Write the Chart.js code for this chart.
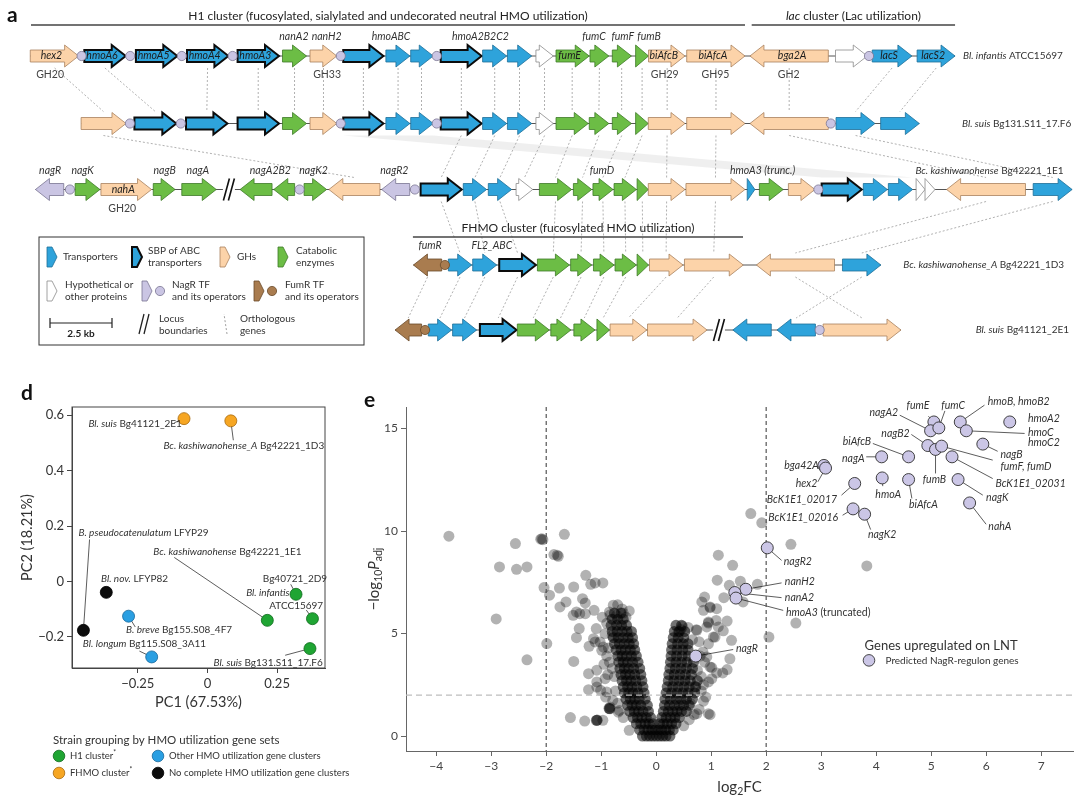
<!DOCTYPE html>
<html>
<head>
<meta charset="utf-8">
<title>HMO utilization gene clusters</title>
<script src="https://cdn.jsdelivr.net/npm/chart.js@4.4.1/dist/chart.umd.min.js"></script>
<style>
  html, body { margin: 0; padding: 0; background: #fff; }
  body { width: 1080px; height: 806px; position: relative; overflow: hidden; }
  canvas { position: absolute; }
  #genes { left: 0; top: 0; }
  #pca { left: 0; top: 380px; }
  #volcano { left: 360px; top: 380px; }
</style>
</head>
<body>
<canvas id="genes" width="1080" height="372"></canvas>
<canvas id="pca" width="350" height="426"></canvas>
<canvas id="volcano" width="720" height="426"></canvas>
<script>
// ---- panel a: gene clusters, [start kb, end kb, strand, kind, label] ----
// kinds: T transporter, S SBP of ABC transporter, G GH, C catabolic, H hypothetical, N NagR, F FumR
const infantisGenes = [
  [1.22, 3.17, 1, 'G', 'hex2'], [3.40, 5.07, 1, 'S', 'hmoA6'], [5.48, 7.15, 1, 'S', 'hmoA5'],
  [7.54, 9.21, 1, 'S', 'hmoA4'], [9.58, 11.25, 1, 'S', 'hmoA3'], [11.39, 12.36, 1, 'C'],
  [12.50, 13.58, 1, 'G'], [13.84, 15.46, 1, 'S'], [15.56, 16.53, 1, 'T'], [16.56, 17.47, 1, 'T'],
  [17.77, 19.42, 1, 'S'], [19.46, 20.43, 1, 'T'], [20.46, 21.44, 1, 'T'], [21.61, 22.31, 1, 'H'],
  [22.42, 23.76, 1, 'C', 'fumE'], [23.79, 24.55, 1, 'C'], [24.69, 25.46, 1, 'C'], [25.63, 26.15, 1, 'C'],
  [26.15, 27.62, 1, 'G', 'biAfcB'], [27.69, 30.04, 1, 'G', 'biAfcA'], [30.24, 33.40, -1, 'G', 'bga2A'],
  [33.69, 34.97, 1, 'H'], [35.17, 36.77, 1, 'T', 'lacS'], [36.98, 38.51, 1, 'T', 'lacS2']
];
const infantisOps = [3.29, 5.25, 7.33, 9.38, 13.74, 17.61, 35.04];
const infantisTags = [[11.85, 'nanA2'], [13.17, 'nanH2'], [15.77, 'hmoABC'], [19.37, 'hmoA2B2C2'],
  [23.95, 'fumC'], [25.11, 'fumF'], [26.17, 'fumB']];
const infantisFams = [[2.02, 'GH20'], [13.19, 'GH33'], [26.80, 'GH29'], [28.85, 'GH95'], [31.80, 'GH2']];

const suis131Genes = [
  [3.27, 5.08, 1, 'G'], [5.42, 7.11, 1, 'S'], [7.50, 9.17, 1, 'S'], [9.58, 11.25, 1, 'S'],
  [11.39, 12.36, 1, 'C'], [12.50, 13.58, 1, 'G'], [13.84, 15.46, 1, 'S'], [15.56, 16.53, 1, 'T'],
  [16.56, 17.47, 1, 'T'], [17.77, 19.42, 1, 'S'], [19.46, 20.43, 1, 'T'], [20.46, 21.44, 1, 'T'],
  [21.61, 22.31, 1, 'H'], [22.42, 23.72, 1, 'C'], [23.76, 24.55, 1, 'C'], [24.69, 25.46, 1, 'C'],
  [25.63, 26.14, 1, 'C'], [26.14, 27.62, 1, 'G'], [27.69, 30.04, 1, 'G'], [30.24, 33.40, -1, 'G'],
  [33.71, 35.28, 1, 'T'], [35.51, 37.07, 1, 'T']
];
const suis131Ops = [5.24, 7.29, 13.74, 17.61, 33.50];

const kash1E1Genes = [
  [1.43, 2.57, -1, 'N'], [3.03, 4.03, 1, 'C'], [4.07, 6.11, 1, 'G', 'nahA'], [6.18, 7.06, 1, 'C'],
  [7.33, 8.72, 1, 'C'], [9.68, 10.97, -1, 'C'], [11.04, 11.88, -1, 'C'], [12.26, 13.17, 1, 'C'],
  [13.26, 15.32, -1, 'G'], [15.39, 16.52, -1, 'N'], [16.96, 18.62, 1, 'S'], [18.68, 19.62, 1, 'T'],
  [19.69, 20.63, 1, 'T'], [20.81, 21.48, 1, 'H'], [21.75, 23.05, 1, 'C'], [23.12, 23.86, 1, 'C'],
  [23.91, 24.72, 1, 'C'], [24.76, 25.66, 1, 'C'], [25.69, 26.14, 1, 'C'], [26.14, 27.62, 1, 'G'],
  [27.66, 30.04, 1, 'G'], [30.13, 30.44, 1, 'T'], [30.62, 31.58, 1, 'C'], [31.79, 32.86, 1, 'G'],
  [33.13, 34.75, 1, 'S'], [34.81, 35.78, 1, 'T'], [35.82, 36.80, 1, 'T'], [36.94, 37.30, 1, 'H'],
  [37.30, 37.70, 1, 'H'], [38.17, 41.35, -1, 'G'], [41.66, 43.23, 1, 'T']
];
const kash1E1Ops = [2.82, 12.08, 16.73, 33.00];
const kash1E1Tags = [[2.02, 'nagR'], [3.33, 'nagK'], [6.64, 'nagB'], [7.98, 'nagA'], [10.90, 'nagA2B2'],
  [12.64, 'nagK2'], [15.90, 'nagR2'], [24.27, 'fumD'], [30.75, 'hmoA3 (trunc.)']];
const kash1E1Fams = [[4.93, 'GH20']];

const kashAGenes = [
  [16.67, 17.81, -1, 'F'], [18.08, 19.02, 1, 'T'], [19.06, 20.03, 1, 'T'], [20.13, 21.61, 1, 'S'],
  [21.67, 22.96, 1, 'C'], [23.01, 23.86, 1, 'C'], [23.93, 24.76, 1, 'C'], [24.80, 25.66, 1, 'C'],
  [25.69, 26.15, 1, 'C'], [26.19, 27.54, 1, 'G'], [27.60, 29.97, 1, 'G'], [30.50, 33.65, -1, 'G'],
  [33.97, 35.52, 1, 'T']
];
const kashAFumOps = [17.94];
const kashATags = [[17.34, 'fumR'], [19.83, 'FL2_ABC']];

const suis41Genes = [
  [15.93, 17.00, -1, 'F'], [17.27, 18.21, 1, 'T'], [18.25, 19.22, 1, 'T'], [19.35, 20.83, 1, 'S'],
  [20.86, 22.15, 1, 'C'], [22.21, 23.02, 1, 'C'], [23.14, 23.99, 1, 'C'], [24.07, 24.58, 1, 'C'],
  [24.60, 26.08, 1, 'G'], [26.11, 28.51, 1, 'G'], [29.55, 31.10, -1, 'T'], [31.33, 32.88, -1, 'T'],
  [33.19, 36.33, 1, 'G']
];
const suis41FumOps = [17.14];
const suis41Ops = [33.05];

// orthologous genes: [row a, kb a, row b, kb b]
const orthologs = [
  [0, 2.20, 1, 4.17], [0, 4.23, 1, 6.26], [0, 8.37, 1, 8.34], [0, 10.41, 1, 10.41], [0, 11.88, 1, 11.88],
  [0, 13.04, 1, 13.04], [0, 14.65, 1, 14.65], [0, 16.05, 1, 16.05], [0, 17.0, 1, 17.0], [0, 18.6, 1, 18.6],
  [0, 19.95, 1, 19.95], [0, 20.95, 1, 20.95], [0, 21.96, 1, 21.96], [0, 23.07, 1, 23.07], [0, 24.17, 1, 24.15],
  [0, 25.07, 1, 25.07], [0, 25.89, 1, 25.89], [0, 26.9, 1, 26.9], [0, 28.87, 1, 28.87], [0, 31.82, 1, 31.82],
  [0, 35.97, 1, 34.5], [0, 37.75, 1, 36.29],
  [1, 4.17, 2, 14.29], [1, 18.6, 2, 17.79], [1, 19.95, 2, 19.15], [1, 20.95, 2, 20.16], [1, 21.96, 2, 21.15],
  [1, 23.07, 2, 22.40], [1, 24.15, 2, 23.49], [1, 25.07, 2, 24.31], [1, 25.89, 2, 25.2], [1, 26.9, 2, 26.88],
  [1, 28.87, 2, 28.85], [1, 31.82, 2, 39.76], [1, 34.5, 2, 42.45],
  [2, 17.79, 3, 18.55], [2, 19.15, 3, 19.55], [2, 20.16, 3, 20.87], [2, 22.40, 3, 22.31], [2, 23.49, 3, 23.43],
  [2, 24.31, 3, 24.35], [2, 25.2, 3, 25.23], [2, 25.9, 3, 25.92], [2, 26.88, 3, 26.86], [2, 28.85, 3, 28.78],
  [2, 39.76, 3, 32.07], [2, 42.45, 3, 34.75],
  [3, 17.24, 4, 16.46], [3, 18.55, 4, 17.74], [3, 19.55, 4, 18.73], [3, 20.87, 4, 20.09], [3, 22.31, 4, 21.5],
  [3, 23.43, 4, 22.6], [3, 24.35, 4, 23.56], [3, 25.23, 4, 24.32], [3, 26.86, 4, 25.34], [3, 28.78, 4, 27.31],
  [3, 32.07, 4, 34.76], [3, 34.75, 4, 32.1]
];
// conserved hmoABC block between Bl. suis and Bc. kashiwanohense
const sharedBlock = [[1, 13.84], [1, 17.47], [2, 36.80], [2, 33.13]];

// ---- panel d: PCA ----
const pcaXTicks = [-0.25, 0, 0.25];
const pcaYTicks = [-0.2, 0, 0.2, 0.4, 0.6];
const h1PC1 = [0.215, 0.318, 0.377, 0.368];
const h1PC2 = [-0.140, -0.046, -0.134, -0.242];
const fhmoPC1 = [-0.084, 0.084];
const fhmoPC2 = [0.588, 0.580];
const otherPC1 = [-0.283, -0.200];
const otherPC2 = [-0.125, -0.272];
const nonePC1 = [-0.445, -0.363];
const nonePC2 = [-0.176, -0.039];

// ---- panel e: volcano ----
const fcTicks = [-4, -3, -2, -1, 0, 1, 2, 3, 4, 5, 6, 7];
const padjTicks = [0, 5, 10, 15];
const fcCutoffs = [-2, 2];
const padjCutoff = 2;
const regulonNames = ['fumE', 'nagA2', 'fumC', 'hmoB, hmoB2', 'hmoA2', 'hmoC', 'nagB2', 'fumB', 'fumF, fumD',
  'biAfcB', 'nagA', 'nagB', 'BcK1E1_02031', 'bga42A', 'hex2', 'BcK1E1_02017', 'hmoA', 'biAfcA', 'nagK',
  'nahA', 'BcK1E1_02016', 'nagK2', 'nagR2', 'nanH2', 'nanA2', 'hmoA3', 'nagR'];
const regulonFC = [5.05, 4.99, 5.14, 5.53, 6.43, 5.64, 4.94, 5.08, 5.19, 4.59, 4.10, 5.94, 5.38, 3.05, 3.08,
  3.61, 4.11, 4.59, 5.49, 5.70, 3.58, 3.79, 2.02, 1.63, 1.43, 1.45, 0.72];
const regulonP = [15.32, 14.89, 15.03, 15.32, 15.32, 14.89, 14.17, 13.98, 14.14, 13.62, 13.62, 14.24, 13.62,
  13.20, 13.07, 12.32, 12.59, 12.51, 12.51, 11.37, 11.08, 10.82, 9.18, 7.16, 7.00, 6.73, 3.90];
// other genes outside the dense centre
const otherGenes = [
  [-3.77, 9.75], [-2.56, 9.39], [-2.85, 8.25], [-2.54, 8.13], [-2.35, 8.25], [-2.91, 5.71], [-2.35, 3.72],
  [-2.10, 9.60], [-2.08, 9.62], [-2.06, 9.58], [-1.67, 9.84], [-1.86, 8.85], [-1.78, 8.77], [-1.80, 8.82],
  [-2.04, 7.24], [-1.94, 6.87], [-1.76, 7.22], [-1.75, 6.30], [-1.50, 7.27], [-1.64, 6.54], [-1.28, 7.84],
  [-1.19, 7.40], [-1.11, 7.47], [-0.97, 7.47], [-1.34, 6.70], [-1.29, 6.49], [-1.45, 6.05], [-1.51, 5.89],
  [-1.39, 5.97], [-1.29, 5.97], [-1.13, 6.13], [-1.40, 5.24], [-1.45, 4.80], [-1.99, 4.51], [-1.50, 3.64],
  [-1.22, 4.38], [-1.14, 4.75], [-1.09, 5.24], [-1.02, 4.59], [-0.99, 4.18], [-0.93, 5.00], [-0.78, 6.38],
  [-0.49, 6.10], [-0.72, 5.89], [-1.23, 3.04], [-1.08, 2.64], [-1.23, 2.26], [-1.01, 2.23], [-0.90, 2.15],
  [-1.56, 0.90], [-1.30, 0.73], [-1.08, 0.77], [-1.07, 0.78], [-1.09, 0.76], [-1.08, 0.77], [-0.85, 1.34],
  [-0.86, 1.35], [-0.84, 1.33], [-0.85, 1.34], [-0.97, 0.77], [-0.49, 0.28], [-0.67, 1.25], [-0.79, 1.74],
  [-0.93, 2.80], [-1.08, 3.21], [-0.96, 4.34], [-1.11, 4.59], [-1.08, 2.39], [-0.84, 1.42], [-0.69, 1.17],
  [-0.85, 3.60], [-0.80, 4.90], [-0.90, 5.50], [-0.62, 6.20], [-0.55, 5.80], [-0.92, 1.90], [-0.76, 2.90],
  [-0.80, 3.30], [-0.88, 3.00], [-0.90, 3.90], [-0.87, 4.30], [-0.98, 5.80], [-0.85, 6.05], [-0.70, 6.40],
  [-0.60, 6.00], [-0.84, 5.90], [-0.95, 3.50], [-0.74, 2.20], [-0.70, 1.60], [-0.60, 0.90],
  [0.69, 1.04], [0.98, 1.04], [1.13, 8.82], [1.11, 7.60], [0.83, 6.54], [0.86, 6.13], [0.98, 6.26],
  [0.95, 5.51], [1.13, 5.32], [0.73, 5.19], [1.07, 4.83], [0.92, 3.86], [1.01, 3.34], [1.10, 3.08],
  [0.95, 2.64], [1.72, 10.85], [1.92, 10.40], [2.45, 9.35], [1.39, 8.33], [3.83, 8.30], [1.33, 7.35],
  [1.53, 7.55], [1.84, 7.40], [0.88, 6.78], [1.23, 6.75], [1.10, 6.21], [1.58, 6.54], [2.54, 5.51],
  [2.05, 4.83], [1.29, 5.61], [1.09, 5.64], [1.37, 4.67], [0.92, 5.32], [1.22, 5.13], [1.04, 4.83],
  [1.34, 3.77], [1.21, 3.08], [1.29, 3.24], [1.01, 2.80], [0.95, 4.50], [0.98, 3.37], [0.74, 1.09],
  [0.95, 1.09], [0.74, 5.16], [0.40, 5.08], [0.98, 6.30], [0.95, 5.56], [0.82, 2.20], [0.86, 1.70],
  [0.80, 3.90], [0.66, 4.70], [0.58, 5.30], [0.48, 5.35], [0.82, 2.90], [0.70, 2.40], [0.62, 1.60],
  [0.85, 4.10], [0.78, 4.60], [0.88, 3.60], [0.75, 3.20], [0.86, 2.50], [0.90, 1.90], [0.78, 1.30],
  [0.60, 0.80], [0.50, 0.50], [0.45, 5.20]
];
// dense V-shaped centre, read level by level: -log10 Padj levels and the log2FC values at each
const coreP = [0, 0.3, 0.6, 0.9, 1.2, 1.5, 1.8, 2.1, 2.4, 2.7, 3.0, 3.3, 3.6, 3.9, 4.2, 4.5, 4.8, 5.1, 5.4, 5.7, 6.0];
const coreFC = [
  [-0.25, -0.18, -0.12, -0.06, 0, 0.06, 0.12, 0.18, 0.25],
  [-0.3, -0.22, -0.15, -0.08, -0.02, 0.04, 0.1, 0.17, 0.24, 0.31],
  [-0.36, -0.28, -0.2, -0.13, -0.06, 0.06, 0.13, 0.2, 0.28, 0.36],
  [-0.42, -0.34, -0.26, -0.18, -0.1, 0.1, 0.18, 0.26, 0.34, 0.42],
  [-0.48, -0.4, -0.32, -0.24, -0.14, 0.13, 0.22, 0.3, 0.38, 0.46, 0.55],
  [-0.52, -0.44, -0.36, -0.28, -0.16, 0.15, 0.24, 0.33, 0.42, 0.5, 0.6],
  [-0.55, -0.47, -0.39, -0.31, -0.2, 0.16, 0.26, 0.36, 0.45, 0.55, 0.66],
  [-0.58, -0.5, -0.42, -0.33, -0.22, 0.18, 0.28, 0.38, 0.48, 0.58, 0.7],
  [-0.6, -0.52, -0.44, -0.35, -0.24, 0.2, 0.3, 0.4, 0.5, 0.6, 0.72],
  [-0.62, -0.54, -0.46, -0.37, -0.26, 0.22, 0.32, 0.42, 0.52, 0.62, 0.75],
  [-0.64, -0.56, -0.48, -0.39, -0.28, 0.23, 0.33, 0.43, 0.53, 0.64],
  [-0.66, -0.58, -0.5, -0.41, -0.3, 0.25, 0.35, 0.45, 0.55, 0.66],
  [-0.68, -0.6, -0.52, -0.43, -0.33, 0.26, 0.36, 0.46, 0.56, 0.68],
  [-0.7, -0.62, -0.54, -0.45, -0.36, 0.27, 0.37, 0.47, 0.58],
  [-0.73, -0.64, -0.56, -0.47, -0.39, 0.28, 0.38, 0.48, 0.58],
  [-0.76, -0.67, -0.58, -0.49, -0.41, 0.29, 0.39, 0.49, 0.58],
  [-0.78, -0.69, -0.6, -0.51, -0.43, 0.31, 0.4, 0.5],
  [-0.8, -0.71, -0.62, -0.53, -0.45, 0.33, 0.42, 0.52],
  [-0.82, -0.72, -0.63, -0.54, 0.36, 0.46],
  [-0.8, -0.7, -0.6],
  [-0.76, -0.64]
];

// ---------------------------------------------------------------
const FONT = 'Lato, "Noto Sans", sans-serif';
Chart.defaults.font.family = FONT;
Chart.defaults.animation = false;

function rich(ctx, parts, x, y, align, size, color) {
  ctx.save();
  ctx.textBaseline = 'middle';
  ctx.textAlign = 'left';
  ctx.fillStyle = color || '#222';
  const fonts = parts.map(([t, f = '']) => {
    const s = (f.includes('s') || f.includes('u')) ? size * 0.7 : size;
    return (f.includes('i') ? 'italic ' : '') + (f.includes('b') ? 'bold ' : '') + s + 'px ' + FONT;
  });
  const widths = parts.map(([t], k) => { ctx.font = fonts[k]; return ctx.measureText(t).width; });
  const total = widths.reduce((a, b) => a + b, 0);
  let cx = align === 'center' ? x - total / 2 : align === 'right' ? x - total : x;
  parts.forEach(([t, f = ''], k) => {
    ctx.font = fonts[k];
    const dy = f.includes('s') ? size * 0.3 : f.includes('u') ? -size * 0.3 : 0;
    ctx.fillText(t, cx, y + dy);
    cx += widths[k];
  });
  ctx.restore();
}

function fmtTick(v) {
  return v < 0 ? '\u2212' + Math.abs(v) : String(v);
}

// ---------------- panel a ----------------
const KIND = {
  T: { fill: '#2ea3db', stroke: '#1e6f98', lw: 0.8 },
  S: { fill: '#2ea3db', stroke: '#0c0c0c', lw: 2 },
  G: { fill: '#fcd3a9', stroke: '#a8825e', lw: 0.8 },
  C: { fill: '#6cbd45', stroke: '#3d7a27', lw: 0.8 },
  H: { fill: '#ffffff', stroke: '#8a8a8a', lw: 0.8 },
  N: { fill: '#cac5e3', stroke: '#7a7592', lw: 0.8 },
  F: { fill: '#a97c4f', stroke: '#6a4a2a', lw: 0.8 }
};
const trackY = [56, 123.5, 189.5, 265, 330];
const geneRows = [
  { genes: infantisGenes, nagOps: infantisOps, fumOps: [], breaks: [], tags: infantisTags, fams: infantisFams,
    name: [['Bl. infantis', 'i'], [' ATCC15697', '']], nameAt: [38.83, 56, 'left'] },
  { genes: suis131Genes, nagOps: suis131Ops, fumOps: [], breaks: [], tags: [], fams: [],
    name: [['Bl. suis', 'i'], [' Bg131.S11_17.F6', '']], nameAt: [38.79, 123.5, 'left'] },
  { genes: kash1E1Genes, nagOps: kash1E1Ops, fumOps: [], breaks: [9.23], tags: kash1E1Tags, fams: kash1E1Fams,
    name: [['Bc. kashiwanohense', 'i'], [' Bg42221_1E1', '']], nameAt: [39.9, 170.5, 'center'] },
  { genes: kashAGenes, nagOps: [], fumOps: kashAFumOps, breaks: [], tags: kashATags, fams: [],
    name: [['Bc. kashiwanohense_A', 'i'], [' Bg42221_1D3', '']], nameAt: [36.42, 265, 'left'] },
  { genes: suis41Genes, nagOps: suis41Ops, fumOps: suis41FumOps, breaks: [28.99], tags: [], fams: [],
    name: [['Bl. suis', 'i'], [' Bg41121_2E1', '']], nameAt: [39.34, 330, 'left'] }
];
const clusterSpans = [
  [1.25, 30.04, 25, [['H1 cluster (fucosylated, sialylated and undecorated neutral HMO utilization)', '']]],
  [30.31, 38.51, 25, [['lac', 'i'], [' cluster (Lac utilization)', '']]],
  [16.65, 29.96, 237, [['FHMO cluster (fucosylated HMO utilization)', '']]]
];

function geneShape(ctx, a, b, y, dir, kind) {
  const st = KIND[kind];
  const len = Math.abs(b - a);
  const head = len < 16 ? len : 14;
  const bh = 6, hh = 11;
  const s = dir > 0 ? 1 : -1;
  const tip = dir > 0 ? b : a, tail = dir > 0 ? a : b;
  const neck = tip - s * head;
  ctx.beginPath();
  if (len - head < 1) {
    ctx.moveTo(tail, y - hh); ctx.lineTo(tip, y); ctx.lineTo(tail, y + hh);
  } else {
    ctx.moveTo(tail, y - bh); ctx.lineTo(neck, y - bh); ctx.lineTo(neck, y - hh); ctx.lineTo(tip, y);
    ctx.lineTo(neck, y + hh); ctx.lineTo(neck, y + bh); ctx.lineTo(tail, y + bh);
  }
  ctx.closePath();
  ctx.fillStyle = st.fill; ctx.fill();
  ctx.lineWidth = st.lw; ctx.strokeStyle = st.stroke; ctx.lineJoin = 'miter'; ctx.stroke();
}

function legendIcon(ctx, x, y, kind) {
  const st = KIND[kind];
  ctx.beginPath();
  ctx.moveTo(x, y - 10); ctx.lineTo(x + 5, y - 10); ctx.lineTo(x + 10, y);
  ctx.lineTo(x + 5, y + 10); ctx.lineTo(x, y + 10); ctx.closePath();
  ctx.fillStyle = st.fill; ctx.fill();
  ctx.lineWidth = st.lw; ctx.strokeStyle = st.stroke; ctx.stroke();
}

function operator(ctx, x, y, fill, stroke, r) {
  ctx.beginPath(); ctx.arc(x, y, r || 4.6, 0, Math.PI * 2);
  ctx.fillStyle = fill; ctx.fill(); ctx.lineWidth = 0.8; ctx.strokeStyle = stroke; ctx.stroke();
}

function locusBreak(ctx, x, y) {
  ctx.fillStyle = '#fff';
  ctx.fillRect(x - 6, y - 2, 12, 4);
  ctx.strokeStyle = '#111'; ctx.lineWidth = 1.6;
  [-2.5, 2.5].forEach(d => {
    ctx.beginPath(); ctx.moveTo(x + d - 3, y + 11); ctx.lineTo(x + d + 3, y - 11); ctx.stroke();
  });
}

const genePlugin = {
  id: 'geneMap',
  afterDatasetsDraw(chart) {
    const ctx = chart.ctx, X = chart.scales.x, Y = chart.scales.y;
    const px = v => X.getPixelForValue(v), py = v => Y.getPixelForValue(v);
    ctx.save();

    // conserved block
    ctx.beginPath();
    sharedBlock.forEach(([r, kb], k) => {
      const yy = py(trackY[r]) + (r === 1 ? 12 : -12);
      if (k === 0) ctx.moveTo(px(kb), yy); else ctx.lineTo(px(kb), yy);
    });
    ctx.closePath();
    ctx.fillStyle = 'rgba(180,180,180,0.22)'; ctx.fill();

    // orthologous genes
    ctx.setLineDash([2, 2]); ctx.strokeStyle = '#9d9d9d'; ctx.lineWidth = 0.8;
    orthologs.forEach(([ra, ka, rb, kb]) => {
      ctx.beginPath(); ctx.moveTo(px(ka), py(trackY[ra]) + 12); ctx.lineTo(px(kb), py(trackY[rb]) - 12); ctx.stroke();
    });
    ctx.setLineDash([]);

    geneRows.forEach((row, k) => {
      const y = py(trackY[k]);
      const lo = Math.min(...row.genes.map(g => g[0])), hi = Math.max(...row.genes.map(g => g[1]));
      ctx.strokeStyle = '#555'; ctx.lineWidth = 1;
      ctx.beginPath(); ctx.moveTo(px(lo), y); ctx.lineTo(px(hi), y); ctx.stroke();
      row.genes.forEach(g => geneShape(ctx, px(g[0]), px(g[1]), y, g[2], g[3]));
      row.breaks.forEach(b => locusBreak(ctx, px(b), y));
      row.nagOps.forEach(o => operator(ctx, px(o), y, '#cac5e3', '#7a7592'));
      row.fumOps.forEach(o => operator(ctx, px(o), y, '#a97c4f', '#6a4a2a'));
      row.genes.forEach(g => {
        if (!g[4]) return;
        const mid = (px(g[0]) + px(g[1])) / 2 - g[2] * 3;
        rich(ctx, [[g[4], 'i']], mid, y, 'center', 10.5, '#1c1c1c');
      });
      row.tags.forEach(([kb, t]) => rich(ctx, [[t, 'i']], px(kb), y - 19, 'center', 10.5, '#333'));
      row.fams.forEach(([kb, t]) => rich(ctx, [[t, '']], px(kb), y + 19, 'center', 10.5, '#444'));
      rich(ctx, row.name, px(row.nameAt[0]), py(row.nameAt[1]), row.nameAt[2], 10, '#333');
    });

    // cluster brackets
    clusterSpans.forEach(([a, b, yy, parts]) => {
      ctx.strokeStyle = '#444'; ctx.lineWidth = 1.3;
      ctx.beginPath(); ctx.moveTo(px(a), py(yy)); ctx.lineTo(px(b), py(yy)); ctx.stroke();
      rich(ctx, parts, (px(a) + px(b)) / 2, py(yy) - 9, 'center', 12, '#222');
    });

    // legend box
    ctx.strokeStyle = '#333'; ctx.lineWidth = 1;
    ctx.strokeRect(39, 237, 325, 108);
    const fs = 10;
    legendIcon(ctx, 47, 257, 'T'); rich(ctx, [['Transporters', '']], 63, 257, 'left', fs, '#333');
    legendIcon(ctx, 132, 257, 'S'); rich(ctx, [['SBP of ABC', '']], 148, 251, 'left', fs, '#333');
    rich(ctx, [['transporters', '']], 148, 263, 'left', fs, '#333');
    legendIcon(ctx, 220, 257, 'G'); rich(ctx, [['GHs', '']], 237, 257, 'left', fs, '#333');
    legendIcon(ctx, 278, 257, 'C'); rich(ctx, [['Catabolic', '']], 296, 251, 'left', fs, '#333');
    rich(ctx, [['enzymes', '']], 296, 263, 'left', fs, '#333');
    legendIcon(ctx, 47, 291, 'H'); rich(ctx, [['Hypothetical or', '']], 65, 285, 'left', fs, '#333');
    rich(ctx, [['other proteins', '']], 65, 297, 'left', fs, '#333');
    legendIcon(ctx, 142, 291, 'N'); operator(ctx, 160, 291, '#cac5e3', '#7a7592', 4.6);
    rich(ctx, [['NagR TF', '']], 172, 285, 'left', fs, '#333');
    rich(ctx, [['and its operators', '']], 172, 297, 'left', fs, '#333');
    legendIcon(ctx, 254, 291, 'F'); operator(ctx, 272, 291, '#a97c4f', '#6a4a2a', 4.6);
    rich(ctx, [['FumR TF', '']], 285, 285, 'left', fs, '#333');
    rich(ctx, [['and its operators', '']], 285, 297, 'left', fs, '#333');
    // scale bar from the kb axis
    const sb0 = 50, sb1 = sb0 + (px(2.5) - px(0));
    ctx.strokeStyle = '#222'; ctx.lineWidth = 1.2;
    ctx.beginPath(); ctx.moveTo(sb0, 323); ctx.lineTo(sb1, 323);
    ctx.moveTo(sb0, 318); ctx.lineTo(sb0, 328); ctx.moveTo(sb1, 318); ctx.lineTo(sb1, 328); ctx.stroke();
    rich(ctx, [['2.5 kb', 'b']], (sb0 + sb1) / 2, 334, 'center', fs, '#222');
    ctx.lineWidth = 1.3;
    [0, 5].forEach(d => { ctx.beginPath(); ctx.moveTo(139 + d, 334); ctx.lineTo(144 + d, 314); ctx.stroke(); });
    rich(ctx, [['Locus', '']], 159, 319, 'left', fs, '#333');
    rich(ctx, [['boundaries', '']], 159, 331, 'left', fs, '#333');
    ctx.setLineDash([2, 2]); ctx.strokeStyle = '#888'; ctx.lineWidth = 0.8;
    ctx.beginPath(); ctx.moveTo(227, 334); ctx.lineTo(224, 314); ctx.stroke(); ctx.setLineDash([]);
    rich(ctx, [['Orthologous', '']], 240, 319, 'left', fs, '#333');
    rich(ctx, [['genes', '']], 240, 331, 'left', fs, '#333');

    rich(ctx, [['a', 'b']], 7, 15, 'left', 21, '#111');
    ctx.restore();
  }
};

new Chart(document.getElementById('genes'), {
  type: 'scatter',
  data: {
    datasets: geneRows.map((r, k) => ({
      label: 'row' + k,
      data: r.genes.map(g => ({ x: (g[0] + g[1]) / 2, y: trackY[k] })),
      pointRadius: 0
    }))
  },
  options: {
    responsive: false,
    layout: { padding: 0 },
    scales: {
      x: { type: 'linear', min: 0, max: 1080 / 24.8, display: false },
      y: { type: 'linear', min: 0, max: 372, reverse: true, display: false }
    },
    plugins: { legend: { display: false }, tooltip: { enabled: false } }
  },
  plugins: [genePlugin]
});

// ---------------- panel d ----------------
const pcaSets = {
  h1: { x: h1PC1, y: h1PC2, fill: '#1fa533', edge: '#0f6a1d' },
  fhmo: { x: fhmoPC1, y: fhmoPC2, fill: '#f6a623', edge: '#a86a0c' },
  other: { x: otherPC1, y: otherPC2, fill: '#2a9fe2', edge: '#17679a' },
  none: { x: nonePC1, y: nonePC2, fill: '#0c0c0c', edge: '#000' }
};
const pcaLabels = [
  { parts: [['Bl. suis', 'i'], [' Bg41121_2E1', '']], at: [-0.427, 0.570], from: [-0.119, 0.573], to: ['fhmo', 0] },
  { parts: [['Bc. kashiwanohense_A', 'i'], [' Bg42221_1D3', '']], at: [-0.158, 0.490], from: [0.093, 0.510], to: ['fhmo', 1] },
  { parts: [['B. pseudocatenulatum', 'i'], [' LFYP29', '']], at: [-0.463, 0.175], from: [-0.423, 0.152], to: ['none', 0] },
  { parts: [['Bc. kashiwanohense', 'i'], [' Bg42221_1E1', '']], at: [-0.194, 0.107], from: [-0.119, 0.087], to: ['h1', 0] },
  { parts: [['Bl. nov.', 'i'], [' LFYP82', '']], at: [-0.382, 0.011] },
  { parts: [['Bg40721_2D9', '']], at: [0.199, 0.011], from: [0.299, -0.010], to: ['h1', 1] },
  { parts: [['Bl. infantis', 'i']], at: [0.139, -0.039] },
  { parts: [['ATCC15697', '']], at: [0.222, -0.089], from: [0.355, -0.103], to: ['h1', 2] },
  { parts: [['B. breve', 'i'], [' Bg155.S08_4F7', '']], at: [-0.292, -0.173], from: [-0.259, -0.164], to: ['other', 0] },
  { parts: [['Bl. longum', 'i'], [' Bg115.S08_3A11', '']], at: [-0.447, -0.226], from: [-0.244, -0.251], to: ['other', 1] },
  { parts: [['Bl. suis', 'i'], [' Bg131.S11_17.F6', '']], at: [0.022, -0.292], from: [0.279, -0.266], to: ['h1', 3] }
];
const pcaLegend = [
  ['h1', [['H1 cluster', ''], ['*', 'u']], 59, 376],
  ['fhmo', [['FHMO cluster', ''], ['*', 'u']], 59, 393],
  ['other', [['Other HMO utilization gene clusters', '']], 158, 376],
  ['none', [['No complete HMO utilization gene clusters', '']], 158, 393]
];

const pcaPlugin = {
  id: 'pcaDecor',
  beforeDatasetsDraw(chart) {
    const ctx = chart.ctx, X = chart.scales.x, Y = chart.scales.y;
    ctx.save();
    ctx.strokeStyle = '#333'; ctx.lineWidth = 0.8;
    pcaLabels.forEach(l => {
      if (!l.from) return;
      const s = pcaSets[l.to[0]];
      ctx.beginPath();
      ctx.moveTo(X.getPixelForValue(l.from[0]), Y.getPixelForValue(l.from[1]));
      ctx.lineTo(X.getPixelForValue(s.x[l.to[1]]), Y.getPixelForValue(s.y[l.to[1]]));
      ctx.stroke();
    });
    ctx.restore();
  },
  afterDraw(chart) {
    const ctx = chart.ctx, X = chart.scales.x, Y = chart.scales.y, a = chart.chartArea;
    ctx.save();
    ctx.strokeStyle = '#444'; ctx.lineWidth = 1;
    ctx.strokeRect(a.left, a.top, a.right - a.left, a.bottom - a.top);
    pcaLabels.forEach(l => rich(ctx, l.parts, X.getPixelForValue(l.at[0]), Y.getPixelForValue(l.at[1]), 'left', 10, '#333'));
    rich(ctx, [['PC1 (67.53%)', '']], (a.left + a.right) / 2, 322, 'center', 14.5, '#333');
    ctx.save();
    ctx.translate(27, (a.top + a.bottom) / 2); ctx.rotate(-Math.PI / 2);
    rich(ctx, [['PC2 (18.21%)', '']], 0, 0, 'center', 14.5, '#333');
    ctx.restore();
    rich(ctx, [['Strain grouping by HMO utilization gene sets', '']], 53, 360, 'left', 11.5, '#333');
    pcaLegend.forEach(([key, parts, x, y]) => {
      const s = pcaSets[key];
      ctx.beginPath(); ctx.arc(x, y, 5.8, 0, Math.PI * 2);
      ctx.fillStyle = s.fill; ctx.fill(); ctx.lineWidth = 0.8; ctx.strokeStyle = s.edge; ctx.stroke();
      rich(ctx, parts, x + 11, y, 'left', 9.5, '#333');
    });
    rich(ctx, [['d', 'b']], 21, 13, 'left', 21, '#111');
    ctx.restore();
  }
};

new Chart(document.getElementById('pca'), {
  type: 'scatter',
  data: {
    datasets: Object.keys(pcaSets).map(key => ({
      label: key,
      data: pcaSets[key].x.map((v, k) => ({ x: v, y: pcaSets[key].y[k] })),
      backgroundColor: pcaSets[key].fill,
      borderColor: pcaSets[key].edge,
      borderWidth: 0.8,
      pointRadius: 6
    }))
  },
  options: {
    responsive: false,
    layout: { padding: { left: 0, right: 25, top: 27, bottom: 0 } },
    scales: {
      x: {
        type: 'linear', min: -0.486, max: 0.422,
        afterBuildTicks: s => { s.ticks = pcaXTicks.map(v => ({ value: v })); },
        afterFit: s => { s.height = 138; },
        grid: { drawOnChartArea: false, drawTicks: true, tickLength: 5, color: '#444' },
        border: { color: '#444' },
        ticks: { callback: v => fmtTick(v), color: '#333', font: { size: 13 }, padding: 3, maxRotation: 0 }
      },
      y: {
        type: 'linear', min: -0.312, max: 0.63,
        afterBuildTicks: s => { s.ticks = pcaYTicks.map(v => ({ value: v })); },
        afterFit: s => { s.width = 72; },
        grid: { drawOnChartArea: false, drawTicks: true, tickLength: 5, color: '#444' },
        border: { color: '#444' },
        ticks: { callback: v => fmtTick(v), color: '#333', font: { size: 13 }, padding: 3 }
      }
    },
    plugins: { legend: { display: false }, tooltip: { enabled: false } }
  },
  plugins: [pcaPlugin]
});

// ---------------- panel e ----------------
const regulonLabels = [
  // [text x, text y, align, leader x, leader y]
  [4.76, 16.14, 'center', 4.95, 15.6], [4.40, 15.76, 'right', 4.43, 15.65], [5.40, 16.14, 'center', 5.25, 15.86],
  [6.03, 16.30, 'left', 5.97, 16.14], [6.76, 15.49, 'left', 6.52, 15.41], [6.76, 14.79, 'left', 6.70, 14.76],
  [4.61, 14.76, 'right', 4.64, 14.71], [5.06, 12.53, 'center', 5.08, 12.81], [6.26, 13.16, 'left', 6.12, 13.46],
  [3.91, 14.35, 'right', 3.94, 14.27], [3.79, 13.54, 'right', 3.82, 13.62], [6.26, 13.75, 'left', 6.21, 13.89],
  [6.17, 12.32, 'left', 6.12, 12.56], [2.96, 13.20, 'right', 2.99, 13.21], [2.93, 12.30, 'right', 2.94, 12.40],
  [3.29, 11.54, 'right', 3.37, 11.75], [4.22, 11.80, 'center', 4.12, 12.19], [4.86, 11.29, 'center', 4.65, 11.59],
  [6.00, 11.63, 'left', 5.94, 11.75], [6.04, 10.20, 'left', 6.00, 10.33], [3.31, 10.66, 'right', 3.39, 10.77],
  [4.11, 9.84, 'center', 3.90, 10.07], [2.32, 8.49, 'left', 2.28, 8.57], [2.34, 7.52, 'left', 2.28, 7.47],
  [2.34, 6.75, 'left', 2.28, 6.75], [2.36, 6.02, 'left', 2.31, 6.13], [1.45, 4.27, 'left', 1.40, 4.22]
];

const volcanoPlugin = {
  id: 'volcanoDecor',
  beforeDatasetsDraw(chart) {
    const ctx = chart.ctx, X = chart.scales.x, Y = chart.scales.y;
    ctx.save();
    ctx.strokeStyle = '#333'; ctx.lineWidth = 0.8;
    regulonLabels.forEach((l, k) => {
      ctx.beginPath();
      ctx.moveTo(X.getPixelForValue(l[3]), Y.getPixelForValue(l[4]));
      ctx.lineTo(X.getPixelForValue(regulonFC[k]), Y.getPixelForValue(regulonP[k]));
      ctx.stroke();
    });
    ctx.restore();
  },
  beforeDatasetDraw(chart, args) {
    if (args.index !== 0) return;
    const ctx = chart.ctx, X = chart.scales.x, Y = chart.scales.y, a = chart.chartArea;
    ctx.save();
    ctx.lineWidth = 1.2;
    ctx.strokeStyle = '#bdbdbd'; ctx.setLineDash([6, 4]);
    ctx.beginPath(); ctx.moveTo(a.left, Y.getPixelForValue(padjCutoff)); ctx.lineTo(a.right, Y.getPixelForValue(padjCutoff)); ctx.stroke();
    ctx.strokeStyle = '#555'; ctx.setLineDash([4, 3]);
    fcCutoffs.forEach(c => {
      ctx.beginPath(); ctx.moveTo(X.getPixelForValue(c), a.top); ctx.lineTo(X.getPixelForValue(c), a.bottom); ctx.stroke();
    });
    ctx.restore();
  },
  afterDraw(chart) {
    const ctx = chart.ctx, X = chart.scales.x, Y = chart.scales.y, a = chart.chartArea;
    ctx.save();
    regulonLabels.forEach((l, k) => {
      const x = X.getPixelForValue(l[0]), y = Y.getPixelForValue(l[1]);
      const name = regulonNames[k];
      if (name === 'hmoA3') {
        rich(ctx, [['hmoA3', 'i'], [' (truncated)', '']], x, y, l[2], 10.5, '#333');
      } else if (name === 'hmoC') {
        rich(ctx, [['hmoC', 'i']], x, y, l[2], 10.5, '#333');
        rich(ctx, [['hmoC2', 'i']], x, Y.getPixelForValue(14.32), l[2], 10.5, '#333');
      } else {
        rich(ctx, [[name, 'i']], x, y, l[2], 10.5, '#333');
      }
    });
    // legend
    rich(ctx, [['Genes upregulated on LNT', '']], X.getPixelForValue(3.79), Y.getPixelForValue(4.42), 'left', 13, '#333');
    ctx.beginPath(); ctx.arc(X.getPixelForValue(3.87), Y.getPixelForValue(3.69), 5.8, 0, Math.PI * 2);
    ctx.fillStyle = '#cbc6e6'; ctx.fill(); ctx.strokeStyle = '#333'; ctx.lineWidth = 0.9; ctx.stroke();
    rich(ctx, [['Predicted NagR-regulon genes', '']], X.getPixelForValue(4.17), Y.getPixelForValue(3.69), 'left', 10, '#333');
    // axis titles
    rich(ctx, [['log', ''], ['2', 's'], ['FC', '']], (a.left + a.right) / 2, 407, 'center', 15, '#333');
    ctx.save();
    ctx.translate(14, (a.top + a.bottom) / 2); ctx.rotate(-Math.PI / 2);
    rich(ctx, [['\u2212log', ''], ['10', 's'], ['P', 'i'], ['adj', 's']], 0, 0, 'center', 15, '#333');
    ctx.restore();
    rich(ctx, [['e', 'b']], 4, 20, 'left', 21, '#111');
    ctx.restore();
  }
};

const scatterPoints = otherGenes.map(([x, y]) => ({ x, y }));
const corePoints = [];
coreP.forEach((p, k) => coreFC[k].forEach(fc => corePoints.push({ x: fc, y: p })));

new Chart(document.getElementById('volcano'), {
  type: 'scatter',
  data: {
    datasets: [
      {
        label: 'Predicted NagR-regulon genes',
        data: regulonFC.map((v, k) => ({ x: v, y: regulonP[k] })),
        backgroundColor: '#cbc6e6', borderColor: '#2e2e2e', borderWidth: 0.9, pointRadius: 6
      },
      {
        label: 'Other genes',
        data: scatterPoints,
        backgroundColor: 'rgba(0,0,0,0.3)', borderWidth: 0, pointRadius: 5.5
      },
      {
        label: 'Other genes (dense centre)',
        data: corePoints,
        backgroundColor: 'rgba(0,0,0,0.55)', borderWidth: 0, pointRadius: 5.5
      }
    ]
  },
  options: {
    responsive: false,
    layout: { padding: { left: 0, right: 7, top: 27, bottom: 0 } },
    scales: {
      x: {
        type: 'linear', min: -4.55, max: 7.58,
        afterBuildTicks: s => { s.ticks = fcTicks.map(v => ({ value: v })); },
        afterFit: s => { s.height = 55; },
        grid: { drawOnChartArea: false, drawTicks: true, tickLength: 5, color: '#666' },
        border: { color: '#666' },
        ticks: { callback: v => fmtTick(v), color: '#444', font: { size: 12 }, padding: 3, maxRotation: 0 }
      },
      y: {
        type: 'linear', min: -0.73, max: 16.05,
        afterBuildTicks: s => { s.ticks = padjTicks.map(v => ({ value: v })); },
        afterFit: s => { s.width = 46; },
        grid: { drawOnChartArea: false, drawTicks: true, tickLength: 5, color: '#666' },
        border: { color: '#666' },
        ticks: { callback: v => fmtTick(v), color: '#444', font: { size: 12 }, padding: 3 }
      }
    },
    plugins: { legend: { display: false }, tooltip: { enabled: false } }
  },
  plugins: [volcanoPlugin]
});
</script>
</body>
</html>
